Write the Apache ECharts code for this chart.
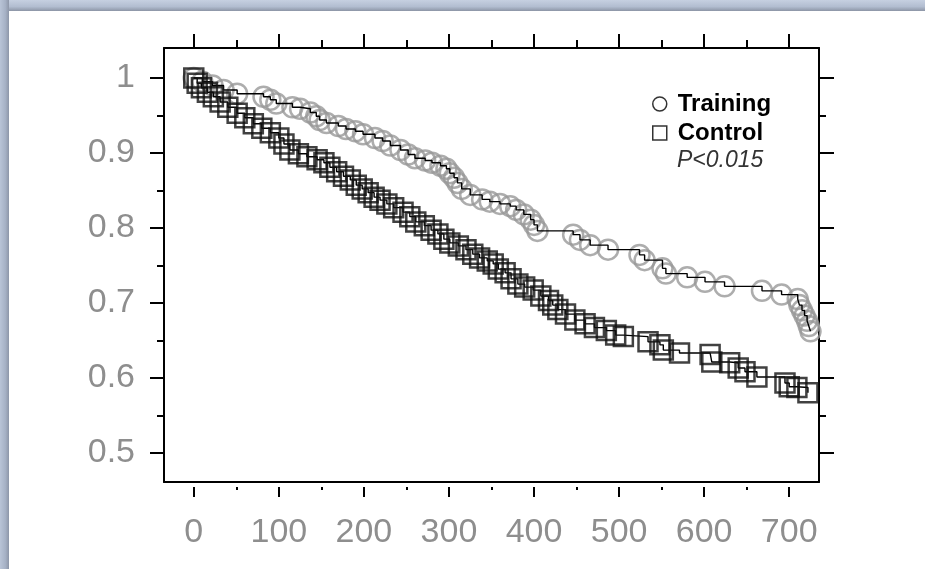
<!DOCTYPE html>
<html>
<head>
<meta charset="utf-8">
<script src="https://cdn.jsdelivr.net/npm/echarts@6/dist/echarts.min.js"></script>
<style>
  html, body { margin: 0; padding: 0; }
  body { width: 925px; height: 569px; position: relative; overflow: hidden; background: #a9b5c9; }
  #topband { position: absolute; left: 0; top: 0; right: 0; height: 11px; background: linear-gradient(180deg, #c6d0e1 0%, #b2bdd0 60%, #8c95a6 100%); }
  #leftband { position: absolute; left: 0; top: 0; bottom: 0; width: 9px; background: linear-gradient(90deg, #b9c4d7 0%, #a6b1c5 60%, #8d96a8 100%); }
  #panel { position: absolute; left: 9px; top: 11px; right: 0; bottom: 0; background: #fff; }
  #main { position: absolute; left: 0; top: 0; width: 925px; height: 569px; }
</style>
</head>
<body>
<div id="topband"></div>
<div id="leftband"></div>
<div id="panel"></div>
<div id="main"></div>
<script>
// survival curves (days, proportion event-free)
const trainingTime = [0, 10, 22, 35, 51, 82, 90, 97, 116, 125, 137, 144, 148, 156, 170, 179, 190, 199, 213, 222,
  231, 243, 252, 260, 272, 280, 290, 297, 301, 306, 310, 315, 325, 339, 348, 360, 372, 379, 388, 396,
  400, 404, 446, 454, 466, 487, 524, 530, 551, 555, 580, 601, 624, 668, 691, 710, 712, 715, 718, 721, 723, 725];
const trainingSurv = [1.0, 0.995, 0.99, 0.984, 0.979, 0.975, 0.971, 0.966, 0.961, 0.959, 0.954, 0.949, 0.944, 0.94, 0.936, 0.932, 0.929, 0.925, 0.92, 0.916,
  0.91, 0.904, 0.898, 0.893, 0.89, 0.887, 0.883, 0.879, 0.873, 0.867, 0.86, 0.852, 0.844, 0.838, 0.835, 0.832, 0.829, 0.824, 0.818, 0.811,
  0.804, 0.796, 0.791, 0.784, 0.777, 0.771, 0.764, 0.757, 0.746, 0.739, 0.734, 0.728, 0.722, 0.716, 0.711, 0.705, 0.697, 0.69, 0.683, 0.676, 0.669, 0.662];

const controlTime = [0, 4, 9, 16, 23, 31, 40, 51, 60, 70, 80, 90, 100, 106, 113, 123, 133, 145, 153, 160,
  168, 176, 184, 191, 198, 205, 212, 219, 227, 235, 246, 254, 261, 271, 279, 287, 294, 301, 311, 320,
  328, 336, 345, 352, 358, 366, 373, 381, 389, 399, 408, 417, 422, 428, 437, 448, 460, 471, 485, 496,
  505, 534, 548, 552, 571, 607, 609, 630, 640, 648, 662, 695, 700, 709, 722];
const controlSurv = [1.0, 0.993, 0.987, 0.981, 0.975, 0.968, 0.961, 0.953, 0.947, 0.939, 0.933, 0.927, 0.92, 0.912, 0.904, 0.899, 0.895, 0.891, 0.887, 0.881,
  0.875, 0.869, 0.864, 0.857, 0.852, 0.847, 0.841, 0.837, 0.832, 0.827, 0.821, 0.815, 0.808, 0.803, 0.797, 0.792, 0.785, 0.78, 0.776, 0.771,
  0.765, 0.76, 0.756, 0.752, 0.745, 0.74, 0.732, 0.725, 0.721, 0.717, 0.709, 0.703, 0.697, 0.691, 0.685, 0.677, 0.672, 0.667, 0.663, 0.657,
  0.655, 0.648, 0.644, 0.637, 0.633, 0.631, 0.621, 0.62, 0.613, 0.608, 0.601, 0.593, 0.588, 0.587, 0.58];

const xMajor = [0, 100, 200, 300, 400, 500, 600, 700];
const xMinor = [50, 150, 250, 350, 450, 550, 650];
const yMajor = [0.5, 0.6, 0.7, 0.8, 0.9, 1];
const yMinor = [0.55, 0.65, 0.75, 0.85, 0.95];

const training = trainingTime.map((t, i) => [t, trainingSurv[i]]);
const control = controlTime.map((t, i) => [t, controlSurv[i]]);

const X_MIN = -35, X_MAX = 735, Y_MIN = 0.461, Y_MAX = 1.04;
const black = { color: '#000', width: 2 };
const labelFont = { fontFamily: 'Liberation Sans', fontSize: 34, color: '#8e8e8e' };

// helper for the several overlaid axes (frame, major ticks, minor ticks)
function axis(position, extra) {
  const horiz = position === 'top' || position === 'bottom';
  const base = {
    type: 'value', position: position,
    min: horiz ? X_MIN : Y_MIN,
    max: horiz ? X_MAX : Y_MAX,
    axisLine: { show: false, onZero: false, lineStyle: black },
    axisTick: { show: false },
    axisLabel: { show: false },
    splitLine: { show: false }
  };
  return Object.assign(base, extra);
}

const chart = echarts.init(document.getElementById('main'));
chart.setOption({
  animation: false,
  grid: { left: 164, right: 106, top: 48, bottom: 87 },
  xAxis: [
    axis('bottom', { axisLine: { show: true, onZero: false, lineStyle: black } }),
    axis('bottom', {
      offset: 5,
      axisTick: { show: true, customValues: xMajor, length: 10, lineStyle: black },
      axisLabel: { show: true, customValues: xMajor, margin: 29, ...labelFont }
    }),
    axis('bottom', { offset: 5, axisTick: { show: true, customValues: xMinor, length: 3, lineStyle: black } }),
    axis('top', {
      axisLine: { show: true, onZero: false, lineStyle: black },
      axisTick: { show: true, customValues: xMajor, length: 14, lineStyle: black }
    }),
    axis('top', { axisTick: { show: true, customValues: xMinor, length: 8, lineStyle: black } })
  ],
  yAxis: [
    axis('left', {
      axisLine: { show: true, onZero: false, lineStyle: black },
      axisTick: { show: true, customValues: yMajor, length: 14, lineStyle: black },
      axisLabel: {
        show: true, customValues: yMajor, margin: 29, padding: [6, 0, 0, 0], ...labelFont,
        formatter: v => (v === 1 ? '1' : v.toFixed(1))
      }
    }),
    axis('left', { axisTick: { show: true, customValues: yMinor, length: 7, lineStyle: black } }),
    axis('right', {
      axisLine: { show: true, onZero: false, lineStyle: black },
      axisTick: { show: true, customValues: yMajor, length: 15, lineStyle: black }
    }),
    axis('right', { axisTick: { show: true, customValues: yMinor, length: 7, lineStyle: black } })
  ],
  legend: {
    orient: 'vertical',
    left: 647, top: 87,
    itemWidth: 14, itemHeight: 14, itemGap: 5,
    selectedMode: false,
    textStyle: {
      fontFamily: 'Liberation Sans', fontSize: 24, fontWeight: 'bold', color: '#000',
      lineHeight: 24, padding: [0, 0, 0, 6]
    },
    data: [
      { name: 'Training', icon: 'circle', itemStyle: { color: 'rgba(0,0,0,0)', borderColor: '#000', borderWidth: 1.5 } },
      { name: 'Control', icon: 'rect', itemStyle: { color: 'rgba(0,0,0,0)', borderColor: '#000', borderWidth: 1.5 } }
    ]
  },
  graphic: [{
    type: 'text', left: 677, top: 149,
    style: { text: 'P<0.015', font: 'italic 23px "Liberation Sans"', fill: '#333' }
  }],
  series: [
    {
      type: 'scatter', name: 'Training', data: training, z: 2,
      symbol: 'circle', symbolSize: 20, silent: true,
      itemStyle: { color: 'rgba(0,0,0,0)', borderColor: '#999', borderWidth: 2.5 }
    },
    {
      type: 'line', name: 'trainingStep', data: training, step: 'end', z: 3,
      symbol: 'none', silent: true, lineStyle: { color: '#000', width: 1.4 }
    },
    {
      type: 'line', name: 'controlStep', data: control, step: 'end', z: 4,
      symbol: 'none', silent: true, lineStyle: { color: '#000', width: 1.4 }
    },
    {
      type: 'scatter', name: 'Control', data: control, z: 5,
      symbol: 'rect', symbolSize: 19, silent: true,
      itemStyle: { color: 'rgba(0,0,0,0)', borderColor: '#111', borderWidth: 2.5 }
    }
  ]
});
</script>
</body>
</html>
